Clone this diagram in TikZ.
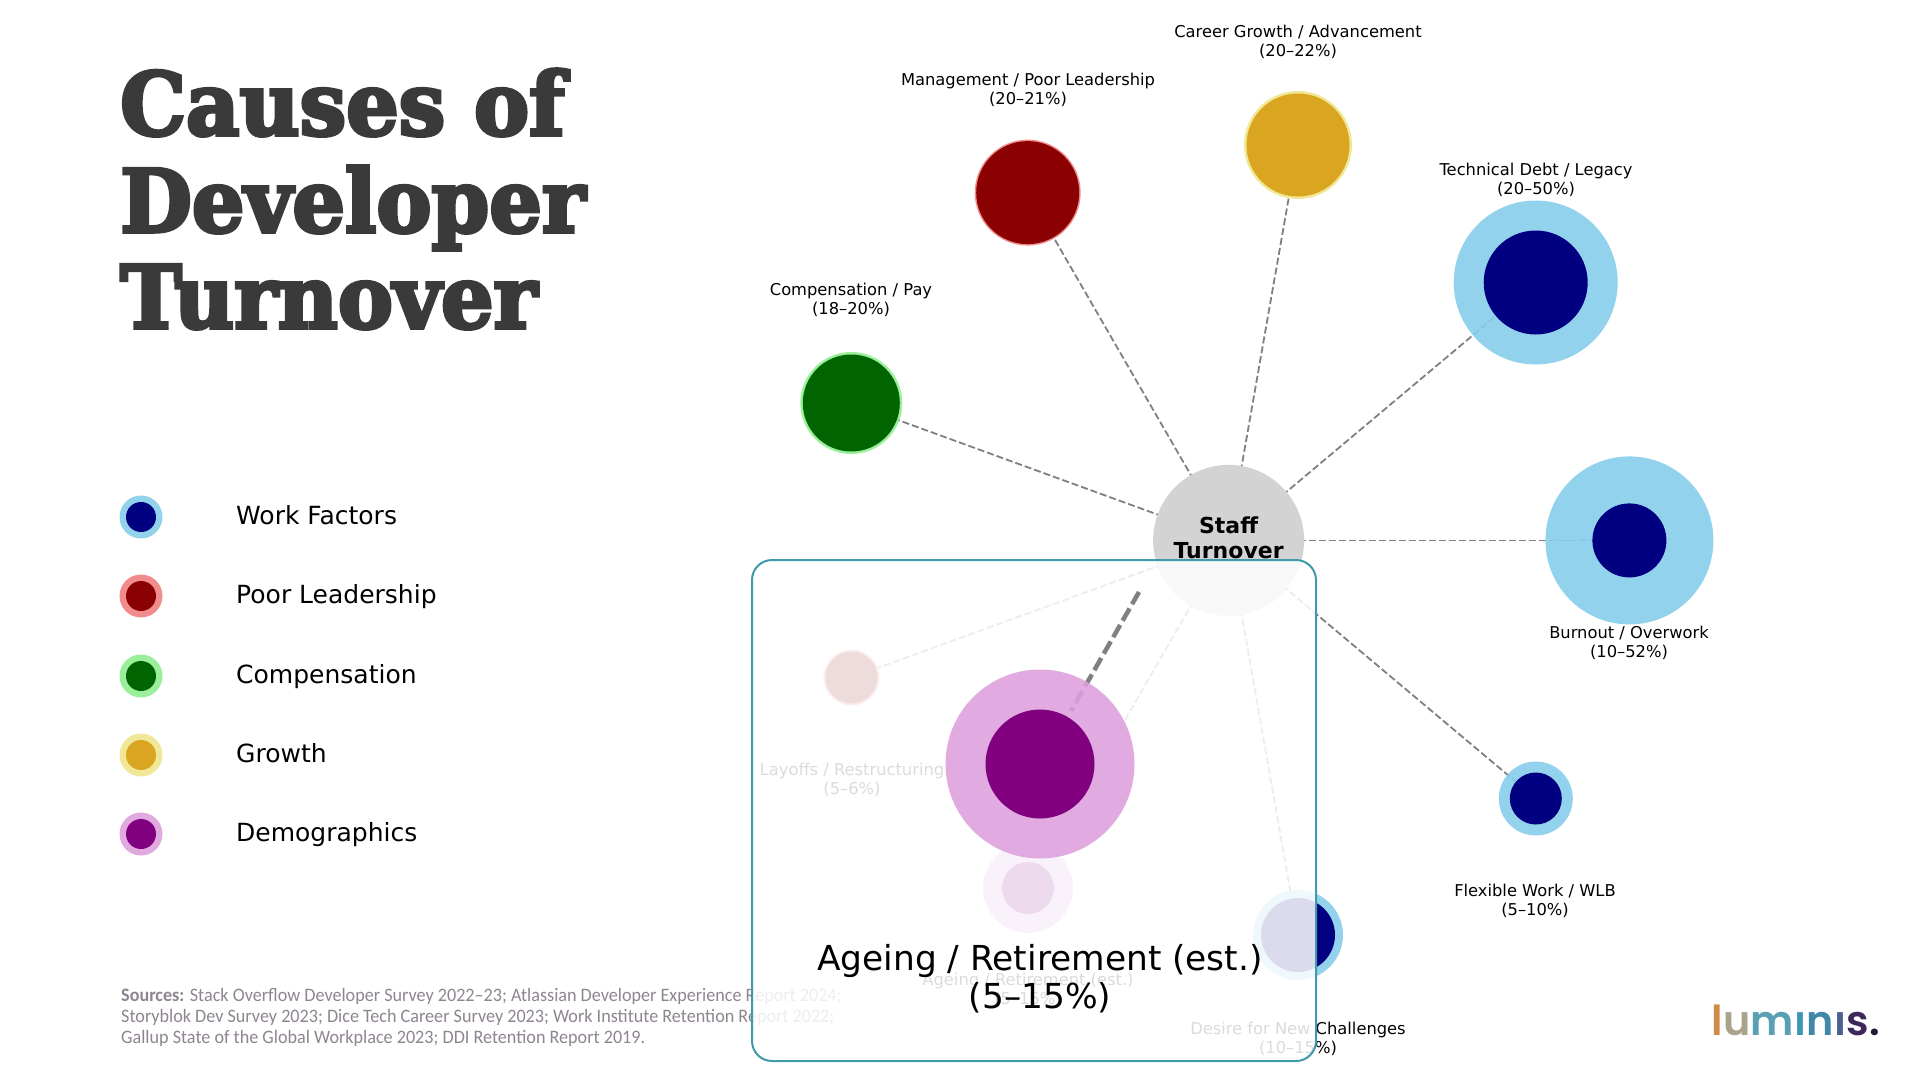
\documentclass[tikz,border=0pt]{standalone}
\usepackage{fontspec}
\setmainfont{DejaVu Sans}
\newfontfamily\titlefont[FakeBold=4,FakeStretch=0.95]{DejaVu Serif Bold}
\newfontfamily\srcfont[Ligatures=TeX,FakeStretch=0.955]{Carlito}
\newfontfamily\logofont{Poppins SemiBold}
\definecolor{skyo}{HTML}{87CEEB}
\definecolor{navy}{HTML}{000080}
\definecolor{redo}{HTML}{F08080}
\definecolor{redi}{HTML}{8B0000}
\definecolor{greeno}{HTML}{90EE90}
\definecolor{greeni}{HTML}{006400}
\definecolor{goldo}{HTML}{F0E68C}
\definecolor{goldi}{HTML}{DAA520}
\definecolor{purpo}{HTML}{DDA0DD}
\definecolor{purpi}{HTML}{800080}
\definecolor{titlec}{HTML}{3A3A3A}
\definecolor{srcc}{HTML}{8E8590}
\definecolor{linkc}{HTML}{808080}
\definecolor{boxc}{HTML}{3F9AAB}
\definecolor{staffc}{HTML}{D3D3D3}
\tikzset{
  blob/.style={circle,inner sep=0pt,outer sep=0pt,draw=none},
  link/.style={draw=linkc,line width=1.8pt,dash pattern=on 7pt off 3pt},
  lab/.style={font=\fontsize{16.3}{19}\selectfont,align=center,text=black,inner sep=0pt},
  leg/.style={font=\fontsize{25}{30}\selectfont,anchor=base west,text=black,inner sep=0pt},
  ttl/.style={font=\titlefont\fontsize{87}{98}\selectfont,text=titlec,anchor=base west,inner sep=0pt},
  logol/.style={font=\logofont\fontsize{41.3}{50}\selectfont,anchor=base west,inner sep=0pt},
}
\begin{document}
\begin{tikzpicture}[x=1pt,y=-1pt]
\useasboundingbox (0,0) rectangle (1920,1080);
\fill[white] (0,0) rectangle (1920,1080);
% title
\node[ttl] (t1) at (120,135) {Causes of};
\node[ttl] (t2) at (120,232) {Developer};
\node[ttl] (t3) at (120,328) {Turnover};
% legend
\foreach \yy/\co/\ci/\tx/\nm in {517/skyo/navy/Work Factors/a,596/redo/redi/Poor Leadership/b,676/greeno/greeni/Compensation/c,755/goldo/goldi/Growth/d,834/purpo/purpi/Demographics/e}{
  \node[blob,fill=\co,opacity=.9,minimum size=43pt] (lo\nm) at (141,\yy) {};
  \node[blob,fill=\ci,minimum size=30pt] (li\nm) at (141,\yy) {};
  \node[leg] (lt\nm) at (236,\yy+7.5) {\tx};
}
% sources
\node[font=\srcfont\fontsize{19}{20.8}\selectfont,text=srcc,align=left,anchor=north west,inner sep=0pt] (src) at (121,988.5)
 {\textbf{Sources:} Stack Overflow Developer Survey 2022--23; Atlassian Developer Experience Report 2024;\\
  Storyblok Dev Survey 2023; Dice Tech Career Survey 2023; Work Institute Retention Report 2022;\\
  Gallup State of the Global Workplace 2023; DDI Retention Report 2019.};
% logo
\node[logol,text={rgb,255:red,208;green,138;blue,72}] (g1) at (1711,1035) {l};
\node[logol,text={rgb,255:red,170;green,163;blue,140},anchor=base west] (g2) at (g1.base east) {u};
\node[logol,text={rgb,255:red,90;green,160;blue,180},anchor=base west] (g3) at (g2.base east) {m};
\node[logol,text={rgb,255:red,60;green,150;blue,180},anchor=base west] (g4) at (g3.base east) {ı};
\node[logol,text={rgb,255:red,65;green,135;blue,170},anchor=base west] (g5) at (g4.base east) {n};
\node[logol,text={rgb,255:red,75;green,95;blue,145},anchor=base west] (g6) at (g5.base east) {ı};
\node[logol,text={rgb,255:red,60;green,40;blue,90},anchor=base west] (g7) at (g6.base east) {s};
\node[logol,text={rgb,255:red,35;green,25;blue,60},anchor=base west] (g8) at (g7.base east) {.};
% coordinates
\coordinate (ctr) at (1228.6,540.4);
\coordinate (pMgmt) at (1027.7,192.6);
\coordinate (pCar) at (1298,145);
\coordinate (pTech) at (1535.7,282.5);
\coordinate (pBurn) at (1629.4,540.4);
\coordinate (pFlex) at (1535.8,798.5);
\coordinate (pDes) at (1298,935);
\coordinate (pAge) at (1028,888);
\coordinate (pLay) at (851.5,677.5);
\coordinate (pComp) at (851.3,403);
% connectors
\foreach \p in {pMgmt,pCar,pTech,pBurn,pFlex,pDes,pAge,pLay,pComp}{
  \draw[link] (ctr) -- (\p);
}
% nodes
\node[blob,fill=redo,opacity=.9,minimum size=106pt] (mgmtO) at (pMgmt) {};
\node[blob,fill=redi,minimum size=103pt] (mgmt) at (pMgmt) {};
\node[blob,fill=goldo,opacity=.9,minimum size=108pt] (carO) at (pCar) {};
\node[blob,fill=goldi,minimum size=103pt] (car) at (pCar) {};
\node[blob,fill=skyo,opacity=.9,minimum size=164pt] (techO) at (pTech) {};
\node[blob,fill=navy,minimum size=104pt] (tech) at (pTech) {};
\node[blob,fill=skyo,opacity=.9,minimum size=168pt] (burnO) at (pBurn) {};
\node[blob,fill=navy,minimum size=74pt] (burn) at (pBurn) {};
\node[blob,fill=skyo,opacity=.9,minimum size=74pt] (flexO) at (pFlex) {};
\node[blob,fill=navy,minimum size=52pt] (flex) at (pFlex) {};
\node[blob,fill=skyo,opacity=.9,minimum size=90pt] (desO) at (pDes) {};
\node[blob,fill=navy,minimum size=74pt] (des) at (pDes) {};
\node[blob,fill=purpo,opacity=.9,minimum size=90pt] (ageO) at (pAge) {};
\node[blob,fill=purpi,minimum size=52pt] (age) at (pAge) {};
\node[blob,fill=redo,opacity=.9,minimum size=56pt] (layO) at (pLay) {};
\node[blob,fill=redi,minimum size=52pt] (lay) at (pLay) {};
\node[blob,fill=greeno,opacity=.9,minimum size=102pt] (compO) at (pComp) {};
\node[blob,fill=greeni,minimum size=97pt] (comp) at (pComp) {};
\node[blob,fill=staffc,minimum size=151pt] (staff) at (ctr) {};
\node[font=\bfseries\fontsize{22}{24.5}\selectfont,align=center,inner sep=0pt] (stafft) at (1228.6,538) {Staff\\Turnover};
% labels
\node[lab] (lCar) at (1298,42) {Career Growth / Advancement\\(20--22\%)};
\node[lab] (lMgmt) at (1028,90) {Management / Poor Leadership\\(20--21\%)};
\node[lab] (lTech) at (1536,179.8) {Technical Debt / Legacy\\(20--50\%)};
\node[lab] (lComp) at (851,300.2) {Compensation / Pay\\(18--20\%)};
\node[lab] (lBurn) at (1629,643) {Burnout / Overwork\\(10--52\%)};
\node[lab] (lFlex) at (1535,901) {Flexible Work / WLB\\(5--10\%)};
\node[lab] (lLay) at (852,780) {Layoffs / Restructuring\\(5--6\%)};
\node[lab] (lAge) at (1028,990) {Ageing / Retirement (est.)\\(5--15\%)};
\node[lab] (lDes) at (1298,1039) {Desire for New Challenges\\(10--15\%)};
% highlight panel
\node[draw=boxc,line width=2pt,fill=white,fill opacity=.86,draw opacity=1,rounded corners=20pt,minimum width=564pt,minimum height=501pt,inner sep=0pt,outer sep=0pt] (panel) at (1034,810.5) {};
\coordinate (hA) at (1139,592);
\coordinate (hB) at (1071,711);
\draw[draw=linkc,line width=4.5pt,dash pattern=on 14pt off 5pt] (hA) -- (hB);
\node[blob,fill=purpo,opacity=.88,minimum size=189pt] (bigO) at (1040,764) {};
\node[blob,fill=purpi,minimum size=109pt] (big) at (1040,764) {};
\node[font=\fontsize{34.4}{38}\selectfont,align=center,text=black,inner sep=0pt] (bigt) at (1040,979) {Ageing / Retirement (est.)\\(5--15\%)};
\end{tikzpicture}
\end{document}
